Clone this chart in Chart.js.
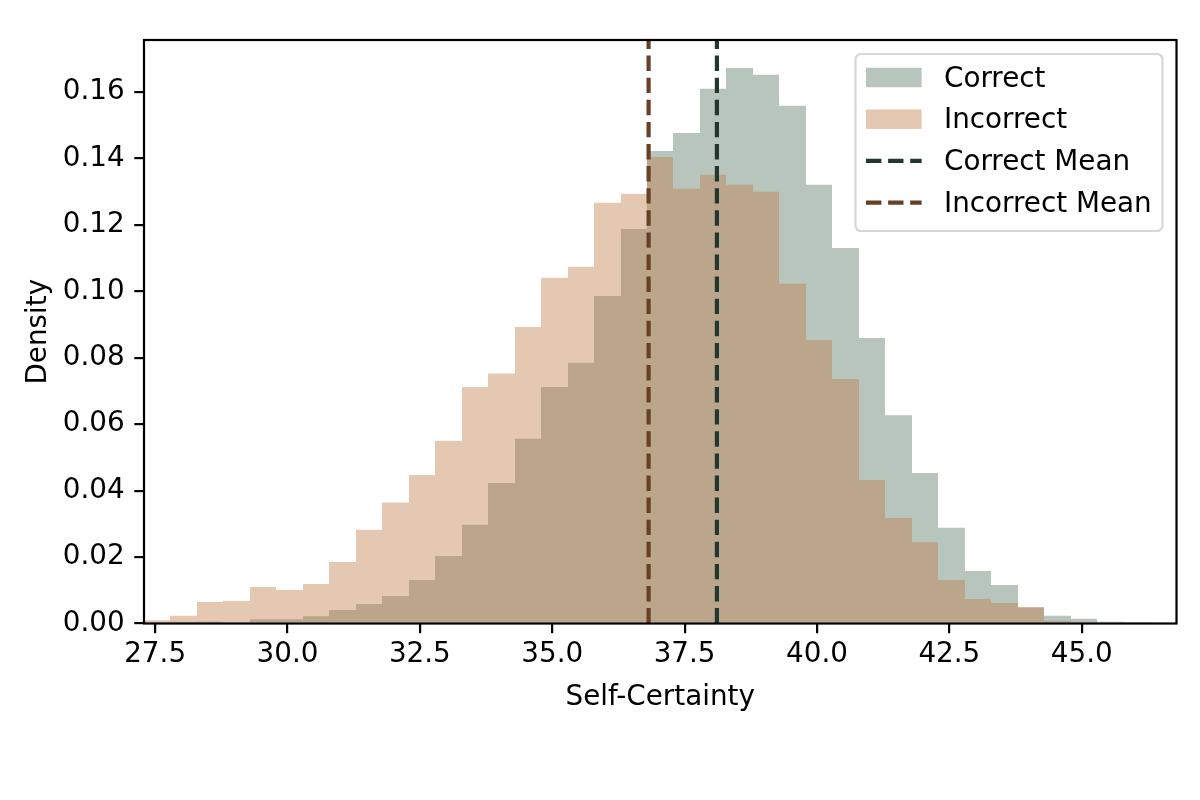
<!DOCTYPE html>
<html>
<head>
<meta charset="utf-8">
<script src="https://cdn.jsdelivr.net/npm/chart.js@4.4.0/dist/chart.umd.min.js"></script>
<style>
  html, body { margin: 0; padding: 0; background: #ffffff; }
  canvas { display: block; }
</style>
</head>
<body>
<canvas id="chart" width="1200" height="800" style="width:1200px;height:800px"></canvas>
<script>
// ---- data ----
const binCenters = [27.54, 28.04, 28.54, 29.04, 29.54, 30.04, 30.54, 31.04, 31.54, 32.04,
                    32.54, 33.04, 33.54, 34.04, 34.54, 35.04, 35.54, 36.04, 36.54, 37.04,
                    37.54, 38.04, 38.54, 39.04, 39.54, 40.04, 40.54, 41.04, 41.54, 42.04,
                    42.54, 43.04, 43.54, 44.04, 44.54, 45.04, 45.54, 46.04, 46.54];
const correctDensity = [0.0001, 0.0005, 0.0006, 0.0004, 0.0013, 0.0013, 0.0022, 0.0041, 0.0059, 0.0083,
                        0.0131, 0.0203, 0.0297, 0.0423, 0.0556, 0.0712, 0.0785, 0.0986, 0.1188, 0.1423,
                        0.1477, 0.1610, 0.1673, 0.1652, 0.1559, 0.1321, 0.1131, 0.0860, 0.0627, 0.0453,
                        0.0288, 0.0158, 0.0116, 0.0048, 0.0023, 0.0014, 0.0005, 0.0004, 0.0000];
const incorrectDensity = [0.0010, 0.0023, 0.0065, 0.0068, 0.0110, 0.0101, 0.0119, 0.0185, 0.0282, 0.0364,
                          0.0447, 0.0550, 0.0712, 0.0753, 0.0893, 0.1041, 0.1074, 0.1267, 0.1294, 0.1405,
                          0.1309, 0.1351, 0.1321, 0.1300, 0.1023, 0.0854, 0.0736, 0.0432, 0.0318, 0.0245,
                          0.0131, 0.0074, 0.0062, 0.0050, 0.0008, 0.0005, 0.0000, 0.0000, 0.0000];
const correctMean = 38.11;
const incorrectMean = 36.82;
const xTickValues = [27.5, 30.0, 32.5, 35.0, 37.5, 40.0, 42.5, 45.0];
const yTickValues = [0.00, 0.02, 0.04, 0.06, 0.08, 0.10, 0.12, 0.14, 0.16];
const xMin = 27.29, xMax = 46.79;
const yMin = 0, yMax = 0.1757;
const seriesLabels = ['Correct', 'Incorrect', 'Correct Mean', 'Incorrect Mean'];
const xTitle = 'Self-Certainty';
const yTitle = 'Density';

// ---- styles ----
const FONT = 'DejaVu Sans';
const FS = 27.8;
const correctFill = 'rgba(82,114,94,0.41)';
const incorrectFill = 'rgba(189,121,67,0.41)';
const correctMeanColor = '#213830';
const incorrectMeanColor = '#673f22';
const LW = 4.17;
const DASH = [15.4, 6.7];

Chart.defaults.font.family = FONT;
Chart.defaults.font.size = FS;
Chart.defaults.color = '#000000';

const toXY = (xs, ys) => xs.map((x, i) => ({ x: x, y: ys[i] }));

// snap bar edges computed by the library onto whole pixels so adjacent bars share edges
const snapBarsPlugin = {
  id: 'snapBars',
  beforeDatasetsDraw(chart) {
    chart.getSortedVisibleDatasetMetas().forEach(meta => {
      if (meta.type !== 'bar') return;
      meta.data.forEach(el => {
        const l = Math.round(el.x - el.width / 2);
        const r = Math.round(el.x + el.width / 2);
        el.x = (l + r) / 2;
        el.width = r - l;
      });
    });
  }
};

const framePlugin = {
  id: 'frame',
  afterDatasetsDraw(chart) {
    const { ctx, chartArea: a } = chart;
    ctx.save();
    ctx.strokeStyle = '#000';
    ctx.lineWidth = 2.2;
    ctx.strokeRect(a.left, a.top, a.right - a.left, a.bottom - a.top);
    ctx.restore();
  }
};

const legendPlugin = {
  id: 'mplLegend',
  afterDraw(chart) {
    const { ctx } = chart;
    const x0 = 855.5, y0 = 54, x1 = 1162.5, y1 = 231, r = 5.6;
    ctx.save();
    ctx.beginPath();
    ctx.moveTo(x0 + r, y0);
    ctx.lineTo(x1 - r, y0);
    ctx.arcTo(x1, y0, x1, y0 + r, r);
    ctx.lineTo(x1, y1 - r);
    ctx.arcTo(x1, y1, x1 - r, y1, r);
    ctx.lineTo(x0 + r, y1);
    ctx.arcTo(x0, y1, x0, y1 - r, r);
    ctx.lineTo(x0, y0 + r);
    ctx.arcTo(x0, y0, x0 + r, y0, r);
    ctx.closePath();
    ctx.fillStyle = 'rgba(255,255,255,0.8)';
    ctx.fill();
    ctx.strokeStyle = 'rgba(204,204,204,0.8)';
    ctx.lineWidth = 2.2;
    ctx.stroke();

    const hx0 = 866, hx1 = 921.6, tx = 944;
    const rowY = [77.5, 119.2, 160.9, 202.6];
    ctx.fillStyle = correctFill;
    ctx.fillRect(hx0, rowY[0] - 9.75, hx1 - hx0, 19.5);
    ctx.fillStyle = incorrectFill;
    ctx.fillRect(hx0, rowY[1] - 9.75, hx1 - hx0, 19.5);
    ctx.lineWidth = LW;
    ctx.lineCap = 'butt';
    ctx.setLineDash(DASH);
    ctx.strokeStyle = correctMeanColor;
    ctx.beginPath(); ctx.moveTo(hx0, rowY[2]); ctx.lineTo(hx1, rowY[2]); ctx.stroke();
    ctx.strokeStyle = incorrectMeanColor;
    ctx.beginPath(); ctx.moveTo(hx0, rowY[3]); ctx.lineTo(hx1, rowY[3]); ctx.stroke();
    ctx.setLineDash([]);
    ctx.fillStyle = '#000';
    ctx.font = FS + 'px "' + FONT + '"';
    ctx.textAlign = 'left';
    ctx.textBaseline = 'middle';
    seriesLabels.forEach((t, i) => ctx.fillText(t, tx, rowY[i] + 2));
    ctx.restore();
  }
};

const tickGrid = {
  display: true,
  offset: false,
  drawOnChartArea: false,
  drawTicks: true,
  tickLength: 9.7,
  tickWidth: 2.2,
  tickColor: '#000',
  color: '#000',
  lineWidth: 2.2
};

new Chart(document.getElementById('chart'), {
  type: 'bar',
  data: {
    datasets: [
      {
        type: 'line', label: seriesLabels[2], order: 0,
        data: [{ x: correctMean, y: yMin }, { x: correctMean, y: yMax }],
        borderColor: correctMeanColor, borderWidth: LW, borderDash: DASH,
        borderCapStyle: 'butt', pointRadius: 0, fill: false, tension: 0
      },
      {
        type: 'line', label: seriesLabels[3], order: 0,
        data: [{ x: incorrectMean, y: yMin }, { x: incorrectMean, y: yMax }],
        borderColor: incorrectMeanColor, borderWidth: LW, borderDash: DASH,
        borderCapStyle: 'butt', pointRadius: 0, fill: false, tension: 0
      },
      {
        label: seriesLabels[1], order: 1,
        data: toXY(binCenters, incorrectDensity),
        backgroundColor: incorrectFill, borderWidth: 0, inflateAmount: 0,
        barPercentage: 1, categoryPercentage: 1, grouped: false
      },
      {
        label: seriesLabels[0], order: 2,
        data: toXY(binCenters, correctDensity),
        backgroundColor: correctFill, borderWidth: 0, inflateAmount: 0,
        barPercentage: 1, categoryPercentage: 1, grouped: false
      }
    ]
  },
  options: {
    responsive: false,
    animation: false,
    devicePixelRatio: 1,
    layout: { padding: { left: 22.3, top: 40, right: 23.5, bottom: 85.3 } },
    plugins: { legend: { display: false }, tooltip: { enabled: false } },
    scales: {
      x: {
        type: 'linear', min: xMin, max: xMax, offset: false,
        grid: tickGrid,
        border: { display: false },
        ticks: {
          autoSkip: false, maxRotation: 0, minRotation: 0, padding: 5,
          font: { size: FS, family: FONT }, color: '#000',
          callback: (v) => Number(v).toFixed(1)
        },
        afterBuildTicks: (s) => { s.ticks = xTickValues.map(v => ({ value: v })); },
        afterFit: (s) => { s.height = 91.2; },
        title: { display: true, text: xTitle, padding: 0, font: { size: FS, family: FONT }, color: '#000' }
      },
      y: {
        type: 'linear', min: yMin, max: yMax,
        grid: tickGrid,
        border: { display: false },
        ticks: {
          autoSkip: false, padding: 9.7,
          font: { size: FS, family: FONT }, color: '#000',
          callback: (v) => Number(v).toFixed(2)
        },
        afterBuildTicks: (s) => { s.ticks = yTickValues.map(v => ({ value: v })); },
        afterFit: (s) => { s.width = 121.7; },
        title: { display: true, text: yTitle, padding: 0, font: { size: FS, family: FONT }, color: '#000' }
      }
    }
  },
  plugins: [snapBarsPlugin, framePlugin, legendPlugin]
});
</script>
</body>
</html>
